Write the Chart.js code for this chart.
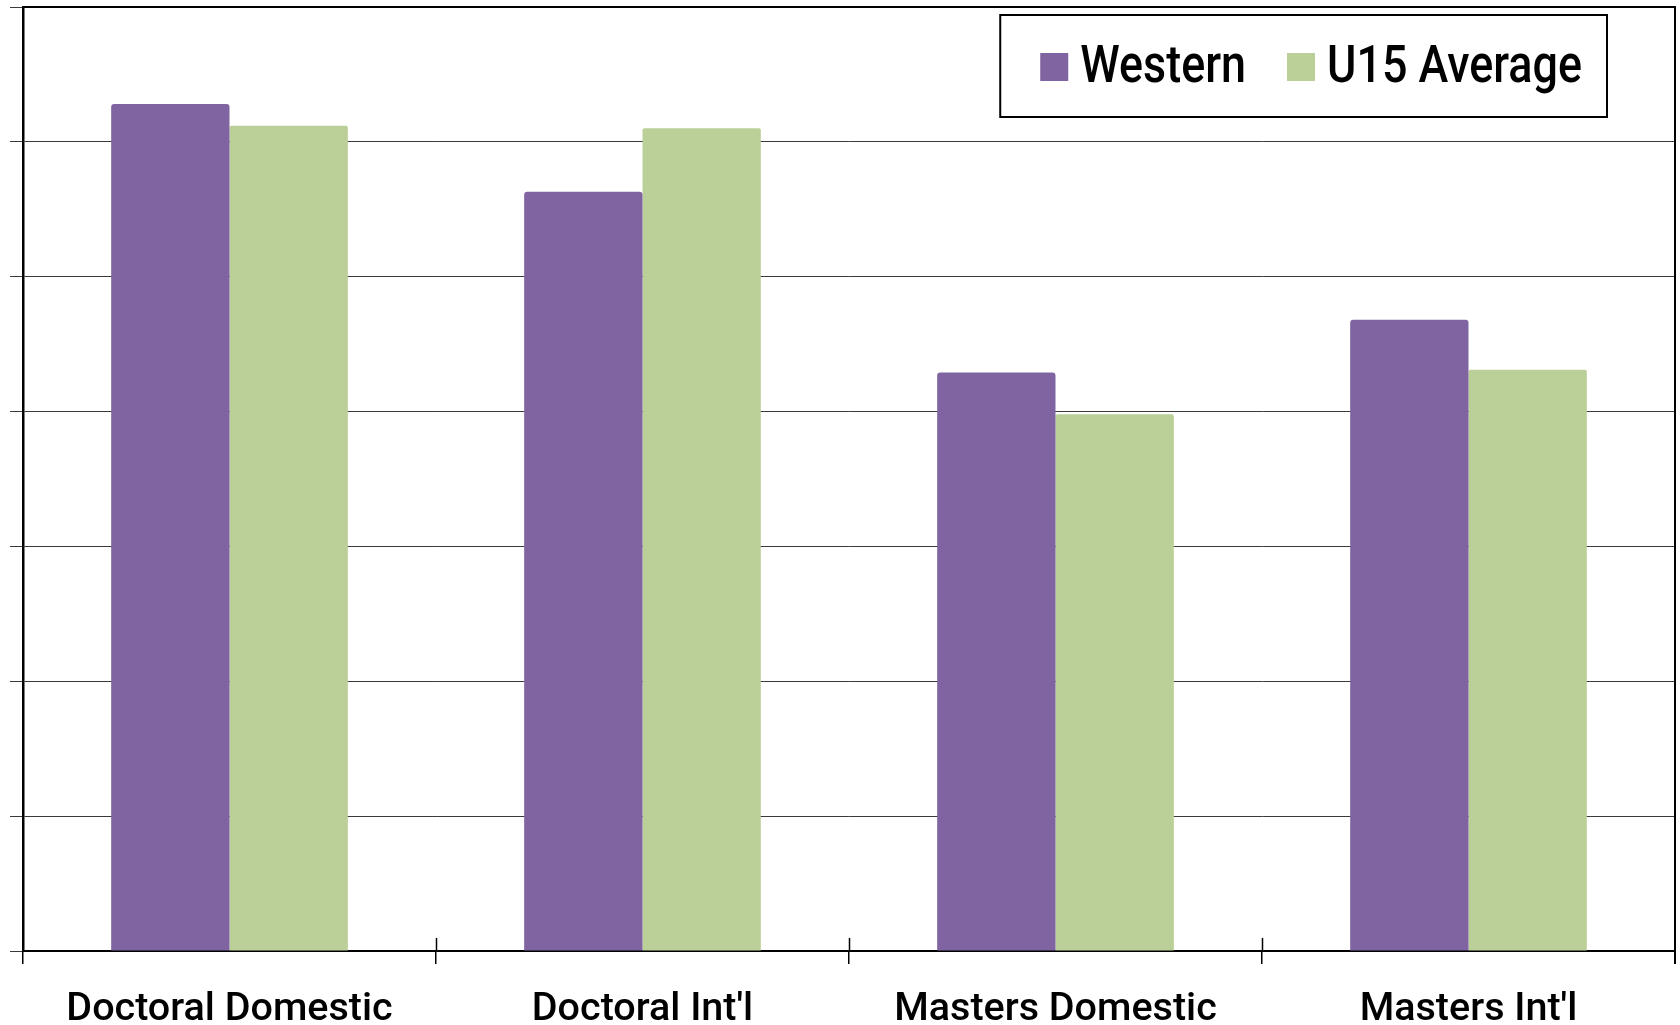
<!DOCTYPE html>
<html>
<head>
<meta charset="utf-8">
<script src="https://cdn.jsdelivr.net/npm/chart.js@4.4.1/dist/chart.umd.min.js"></script>
<style>
  html, body { margin: 0; padding: 0; background: #ffffff; }
  canvas { display: block; }
</style>
</head>
<body>
<canvas id="c" width="1680" height="1025"></canvas>
<script>
const categories = ["Doctoral Domestic", "Doctoral Int'l", "Masters Domestic", "Masters Int'l"];
const seriesNames = ["Western", "U15 Average"];
const westernValues = [6.28, 5.63, 4.29, 4.68];
const u15Values = [6.12, 6.10, 3.98, 4.31];
const yMin = 0;
const yMax = 7;
const yStep = 1;

const FONT = "Roboto, 'Liberation Sans', Arial, sans-serif";

const frameAndLegend = {
  id: 'frameAndLegend',
  afterDraw(chart) {
    const ctx = chart.ctx;
    const a = chart.chartArea;
    ctx.save();
    ctx.strokeStyle = '#000';
    ctx.lineWidth = 2;
    ctx.beginPath();
    ctx.moveTo(a.left, a.top);
    ctx.lineTo(a.right, a.top);
    ctx.lineTo(a.right, a.bottom + 13);
    ctx.stroke();
    const xs = chart.scales.x;
    const n = chart.data.labels.length;
    ctx.lineWidth = 1.5;
    for (let i = 1; i < n; i++) {
      const x = Math.round(xs.left + i * (xs.width / n)) + 0.5;
      ctx.beginPath();
      ctx.moveTo(x, a.bottom - 13);
      ctx.lineTo(x, a.bottom);
      ctx.stroke();
    }
    // legend
    const sx = 0.88;
    ctx.font = "500 51px " + FONT;
    ctx.textBaseline = 'alphabetic';
    const ds = chart.data.datasets;
    const sq = 28, padL = 40, padR = 25, gapSqText = 12, gapItems = 41;
    const widths = ds.map(d => ctx.measureText(d.label).width * sx);
    let total = padL + padR;
    ds.forEach((d, i) => { total += sq + gapSqText + widths[i] + (i < ds.length - 1 ? gapItems : 0); });
    const boxRight = a.right - 68;
    const boxLeft = boxRight - total;
    const boxTop = a.top + 8;
    const boxH = 102;
    ctx.fillStyle = '#fff';
    ctx.fillRect(boxLeft, boxTop, total, boxH);
    ctx.strokeStyle = '#000';
    ctx.lineWidth = 2;
    ctx.strokeRect(boxLeft, boxTop, total, boxH);
    let x = boxLeft + padL;
    const sqTop = boxTop + 38;
    const baseline = boxTop + 67;
    ds.forEach((d, i) => {
      ctx.fillStyle = d.backgroundColor;
      ctx.fillRect(x, sqTop, sq, sq);
      x += sq + gapSqText;
      ctx.fillStyle = '#000';
      ctx.save();
      ctx.translate(x, baseline);
      ctx.scale(sx, 1);
      ctx.fillText(d.label, 0, 0);
      ctx.restore();
      x += widths[i] + gapItems;
    });
    ctx.restore();
  }
};

new Chart(document.getElementById('c'), {
  type: 'bar',
  data: {
    labels: categories,
    datasets: [
      { label: seriesNames[0], data: westernValues, backgroundColor: '#8064A2', borderRadius: 3,
        barPercentage: 1.0, categoryPercentage: 0.573 },
      { label: seriesNames[1], data: u15Values, backgroundColor: '#BBCF98', borderRadius: 2,
        barPercentage: 1.0, categoryPercentage: 0.573 }
    ]
  },
  options: {
    responsive: false,
    animation: false,
    devicePixelRatio: 1,
    layout: { padding: { top: 7, right: 5, left: 0, bottom: 0 } },
    plugins: {
      legend: { display: false },
      tooltip: { enabled: false },
      title: { display: false }
    },
    scales: {
      x: {
        offset: true,
        grid: { display: true, drawOnChartArea: false, drawTicks: true, tickLength: 13, color: '#000', lineWidth: 1.5, offset: true },
        border: { display: true, color: '#000', width: 2 },
        ticks: { color: '#000', font: { family: FONT, size: 39.5, weight: '500' }, padding: 22, maxRotation: 0 },
        afterFit(scale) { scale.height = 74; }
      },
      y: {
        min: yMin, max: yMax,
        ticks: { display: false, stepSize: yStep },
        grid: { color: '#3a3a3a', lineWidth: 1, drawTicks: true, tickLength: 13 },
        border: { display: true, color: '#000', width: 2.5 },
        afterFit(scale) { scale.width = 23; }
      }
    }
  },
  plugins: [frameAndLegend]
});
</script>
</body>
</html>
